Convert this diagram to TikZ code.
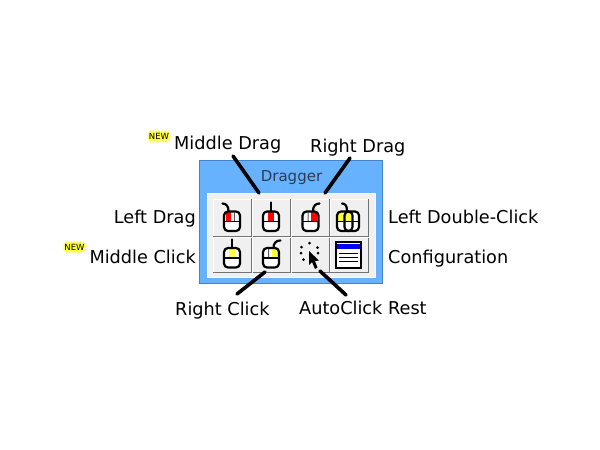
\documentclass[tikz,border=0pt]{standalone}
\usepackage{fontspec}
\setmainfont{DejaVu Sans}
\usetikzlibrary{decorations.pathmorphing}
\definecolor{panelblue}{RGB}{102,178,255}
\definecolor{paneledge}{RGB}{70,130,200}
\definecolor{inner}{RGB}{240,240,240}
\definecolor{titlec}{RGB}{45,60,80}
\definecolor{newy}{RGB}{255,255,60}
\tikzset{
  x=1pt,y=-1pt,
  lab/.style={font=\fontsize{17.7}{20}\selectfont,inner sep=0pt,text=black},
  leader/.style={line width=3.6pt,line cap=round,black},
  cable/.style={black,line width=2.2pt,line cap=round},
  newbadge/.style={fill=newy,draw=none,inner sep=0pt,minimum width=21pt,minimum height=10pt,
    decorate,decoration={zigzag,segment length=3pt,amplitude=1.5pt},
    font=\fontsize{8.5}{8.5}\selectfont,text=black}
}
% #1 centre x, #2 top y, #3 fill left, #4 fill right (relative), #5 colour
\newcommand{\mbody}[5]{%
  \begin{scope}[shift={(#1,#2)}]
    \fill[white,rounded corners=4pt] (-8,0) rectangle (8,19.5);
    \fill[black!65] (-2.8,1) rectangle (-1.9,10) (1.9,1) rectangle (2.8,10);
    \fill[#5] (#3,0.8) rectangle (#4,9.4);
    \draw[black,line width=2.2pt,rounded corners=4pt] (-8,0) rectangle (8,19.5);
    \draw[black,line width=1.4pt] (-8,10) -- (8,10);
  \end{scope}}
\newcommand{\btnframe}[4]{%
  \fill[inner] (#1,#2) rectangle (#3,#4);
  \draw[white,line width=1pt] (#1,#4) -- (#1,#2) -- (#3,#2);
  \draw[black!55,line width=1pt] (#1,#4) -- (#3,#4) -- (#3,#2);}
\begin{document}
\begin{tikzpicture}
\useasboundingbox (0,0) rectangle (600,450);
\fill[white] (0,0) rectangle (600,450);
\node[draw=paneledge,fill=panelblue,line width=.8pt,minimum width=183pt,minimum height=123pt,inner sep=0pt] (panel) at (290.5,222) {};
\node[fill=inner,draw=white,minimum width=168pt,minimum height=84pt,inner sep=0pt] (tray) at (291,235.5) {};
\node[font=\fontsize{15}{17}\selectfont,text=titlec,inner sep=0pt] (title) at (291.5,178) {Dragger};
\btnframe{213}{199}{251.5}{236.5}
\btnframe{252.5}{199}{290.5}{236.5}
\btnframe{291.5}{199}{329}{236.5}
\btnframe{330}{199}{368}{236.5}
\btnframe{213}{237.5}{251.5}{272}
\btnframe{252.5}{237.5}{290.5}{272}
\btnframe{291.5}{237.5}{329}{272}
\btnframe{330}{237.5}{368}{272}
% Row 1
\mbody{232}{211.5}{-6.5}{-1}{red}
\draw[cable] (228.5,211) .. controls (228.5,206) and (226,203.5) .. (222.5,203.5);
\mbody{271}{211.5}{-2.8}{2.8}{red}
\draw[cable] (271,211) -- (271,202.5);
\mbody{310.5}{211.5}{0.5}{6.8}{red}
\draw[cable] (313,211) .. controls (313,206) and (315.5,203.5) .. (319.5,203.5);
% double click: two bodies
\begin{scope}[shift={(345,211.5)}]
  \fill[white] (-8,0) rectangle (14,19);
  \fill[newy] (-7,0.8) rectangle (-1,9.4);
  \fill[newy] (0,0.8) rectangle (6,9.4);
  \draw[black,line width=2.2pt,rounded corners=4pt] (-8,0) rectangle (7.5,19.5);
  \draw[black,line width=2.2pt,rounded corners=4pt] (-.5,0) rectangle (14,19.5);
  \draw[black,line width=1.4pt] (-8,10) -- (14,10);
\end{scope}
\draw[cable] (347,211) .. controls (347,206) and (345.5,203.5) .. (342,203.5);
% Row 2
\mbody{232}{248}{-2.8}{2.8}{newy}
\draw[cable] (232,248) -- (232,239.5);
\mbody{271}{248}{0.5}{6.8}{newy}
\draw[cable] (273.5,248) .. controls (273.5,243) and (276,240.5) .. (280.5,240.5);
% AutoClick
\foreach \a/\b in {309.5/243,301.5/247,317.5/247.5,301/253,318/253,303.5/259.5}{\fill[black] (\a,\b) circle (1.5pt);}
\fill[black] (309,251) -- (309,265) -- (312,262) -- (315,269) -- (317.5,267.5) -- (315,261) -- (319,260.5) -- cycle;
% Config
\fill[white] (335,242) rectangle (361,267);
\fill[blue] (337,244) rectangle (360,248.5);
\draw[black,line width=2pt] (335.5,242) rectangle (361,267.5);
\draw[black,line width=1pt] (339,253) -- (358,253) (339,257) -- (358,257) (339,261) -- (358,261);
% Labels
\node[lab,anchor=west] (md) at (174,144.5) {Middle Drag};
\node[lab,anchor=west] (rd) at (310,148) {Right Drag};
\node[lab,anchor=east] (ld) at (196,219) {Left Drag};
\node[lab,anchor=west] (ldc) at (388,217) {Left Double-Click};
\node[lab,anchor=east] (mc) at (196,257) {Middle Click};
\node[lab,anchor=west] (cfg) at (388,259) {Configuration};
\node[lab,anchor=west] (rc) at (175,311) {Right Click};
\node[lab,anchor=west] (ac) at (299,308) {AutoClick Rest};
\node[newbadge] (n1) at (159,136.5) {NEW};
\node[newbadge] (n2) at (74.5,247) {NEW};
\coordinate (a1) at (233,156); \coordinate (b1) at (259,193);
\coordinate (a2) at (350,158); \coordinate (b2) at (325,193);
\coordinate (a3) at (237,294); \coordinate (b3) at (265,272);
\coordinate (a4) at (346,295); \coordinate (b4) at (320,271);
\draw[leader] (a1) -- (b1);
\draw[leader] (a2) -- (b2);
\draw[leader] (a3) -- (b3);
\draw[leader] (a4) -- (b4);
\end{tikzpicture}
\end{document}
